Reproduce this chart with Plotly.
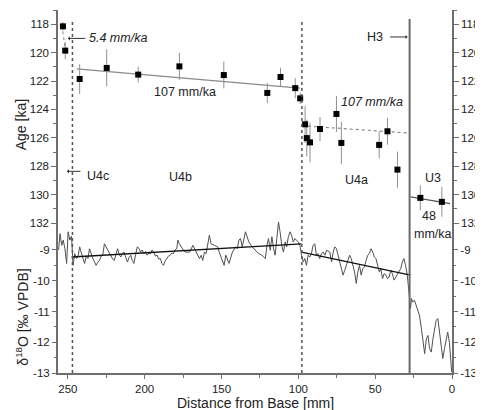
import plotly.graph_objects as go

# ---- U-series ages (top panel) ----
age_dist = [253.2, 251.7, 242.3, 224.7, 204.2, 177.4, 148.5, 120.2, 111.6, 102.0, 98.8,
            95.6, 94.5, 92.4, 85.9, 75.2, 72.0, 47.4, 42.0, 35.5, 20.6, 6.6]
age_ka = [118.15, 119.86, 121.86, 121.08, 121.55, 120.97, 121.58, 122.84, 121.72, 122.5, 123.22,
          125.05, 126.02, 126.32, 125.38, 124.32, 126.36, 126.5, 125.54, 128.24, 130.23, 130.51]
age_err = [0.3, 0.6, 1.05, 1.3, 0.56, 0.95, 0.94, 0.7, 0.65, 0.7, 0.4,
           1.3, 1.3, 1.4, 0.85, 1.27, 1.5, 0.95, 0.95, 1.27, 0.88, 1.05]

# growth-rate fits (age model)
fit_u4b_dist = [244.2, 99.0]
fit_u4b_age = [121.15, 122.5]
fit_u4a_dist = [97.7, 28.9]
fit_u4a_age = [125.15, 125.66]
fit_u3_dist = [27.0, 1.3]
fit_u3_age = [130.16, 130.63]
fit_54_dist = [253.3, 251.3]
fit_54_age = [118.5, 120.0]

# ---- delta 18O record (bottom panel) ----
d18_dist = [256.0, 255.1, 254.0, 253.0, 251.9, 250.8, 249.8, 248.7, 247.6, 246.6, 245.5, 244.4, 243.4,
            242.3, 241.2, 240.2, 239.1, 238.0, 236.9, 235.9, 234.8, 233.7, 232.6, 231.6, 230.5, 229.4,
            228.3, 227.3, 226.2, 225.1, 224.1, 223.0, 221.9, 220.8, 219.8, 218.7, 217.6, 216.6, 215.5,
            214.4, 213.4, 212.3, 211.2, 210.2, 209.1, 208.0, 207.0, 205.9, 204.8, 203.7, 202.7, 201.6,
            200.5, 199.4, 198.4, 197.3, 196.2, 195.2, 194.1, 193.0, 191.9, 190.9, 189.8, 188.7, 187.7,
            186.6, 185.5, 184.5, 183.4, 182.3, 181.3, 180.2, 179.1, 178.4, 177.4, 176.3, 175.2, 174.2,
            173.1,
            170.7, 168.6, 166.5, 164.3, 163.2, 162.2, 161.1, 160.0, 157.9, 156.8, 154.7, 152.5, 151.5,
            149.4, 148.3, 147.2, 146.1, 145.1, 142.9, 140.8, 139.7, 138.7, 137.6, 136.5, 134.4, 133.3,
            132.2, 130.1, 128.0, 125.8, 123.7, 121.5, 120.4, 119.4, 118.3, 117.2, 116.1, 115.1, 114.0,
            112.9, 111.9, 110.8, 109.7, 108.6, 107.6, 106.5, 105.4, 104.4, 103.3, 102.2, 100.1, 99.0,
            97.9, 96.8, 95.8, 94.7, 93.6, 92.5, 91.5, 90.4, 89.3, 88.2, 87.2, 86.1,
            85.0, 83.8, 82.7, 81.6, 79.5, 78.4, 77.3, 76.3, 75.2, 74.1, 73.1, 72.0, 70.9, 69.8, 68.8,
            67.7, 66.6, 65.6, 64.5, 63.4, 62.3, 61.3, 60.2, 59.1, 58.1, 57.0, 55.9, 54.8, 53.8, 52.7,
            51.6, 50.5, 49.5, 48.4, 47.3, 46.3, 45.2, 44.1, 43.0, 42.0, 40.9, 39.8, 38.8, 37.7, 36.6,
            35.6, 34.5, 33.4, 32.3, 31.3, 30.2, 29.1, 28.0, 27.0, 26.4, 25.5, 24.4, 23.4, 22.3, 21.2,
            19.9, 18.9, 17.8, 16.7, 15.6, 14.6, 13.5, 12.4, 11.4, 10.3, 9.2, 8.2, 7.1, 6.0, 4.9, 3.9,
            2.8, 1.7, 0.6, 0.2]
d18_val = [-9.0, -8.47, -8.85, -8.68, -8.96, -9.44, -8.41, -8.68, -8.55, -9.5, -9.12, -9.28, -9.23,
           -8.9, -9.1, -9.3, -9.44, -9.2, -9.28, -8.96, -9.15, -9.28, -9.39, -9.5, -9.4, -9.34,
           -9.2, -9.17, -8.8, -8.9, -8.96, -9.1, -9.17, -9.3, -9.34, -9.1, -8.96, -9.15, -9.23,
           -9.1, -9.07, -9.25, -9.39, -9.25, -9.17, -9.35, -9.44, -9.15, -8.9, -8.95, -9.07, -9.0,
           -9.12, -9.05, -9.17, -9.1, -9.12, -9.0, -9.07, -9.2, -9.17, -9.3, -9.28, -9.45, -9.5,
           -9.35, -9.28, -9.2, -9.17, -9.1, -9.12, -9.0, -8.96, -8.68, -8.8, -8.9, -9.01, -9.05,
           -9.07,
           -9.07, -8.85, -9.07, -9.28, -9.17, -9.34, -9.07, -9.12, -8.52, -8.8, -8.85, -8.9, -9.07,
           -9.39, -9.5, -9.17, -9.34, -9.44, -9.07, -8.9, -8.96, -8.68, -8.63, -8.9, -8.41, -8.57,
           -8.74, -8.9, -9.01, -9.12, -9.17, -9.28, -8.85, -8.63, -9.01, -8.57, -8.96, -9.17, -8.63,
           -8.09, -8.41, -8.85, -9.07, -8.74, -8.9, -8.57, -8.41, -8.52, -8.74, -8.63, -8.74, -8.85,
           -9.17, -9.39, -9.28, -9.5, -9.17, -9.23, -9.12, -8.85, -8.8, -9.17, -9.12, -9.28,
           -9.12, -9.07, -9.17, -9.01, -9.07, -9.39, -9.07, -8.9, -8.96, -9.17, -9.34, -9.61, -9.82,
           -9.66, -9.5, -9.34, -9.17, -9.28, -9.5, -9.72, -10.09, -9.72, -9.5, -9.82, -9.61, -9.55,
           -9.34, -9.17, -9.12, -8.96, -9.07, -9.23, -9.28, -9.55, -9.72, -9.61, -9.93, -9.77, -9.82,
           -9.93, -9.88, -9.66, -9.77, -9.98, -9.88, -9.82, -9.72, -9.61, -9.39, -9.28, -9.5, -9.82,
           -10.37, -10.91, -10.58, -10.69, -10.64, -10.8, -10.96, -11.12, -11.56, -12.0, -12.37,
           -11.89, -11.78, -12.21, -12.32, -11.89, -11.61, -11.29, -11.23, -11.67, -12.1, -12.53,
           -12.21, -11.89, -11.67, -12.0, -12.64, -12.97]

d18_fit1_dist = [247.4, 97.9]
d18_fit1_val = [-9.23, -8.8]
d18_fit2_dist = [97.9, 27.0]
d18_fit2_val = [-9.07, -9.82]

# ---- axes ----
x_ticks = [250, 200, 150, 100, 50, 0]
x_minor = [225, 175, 125, 75, 25]
age_ticks = [118, 120, 122, 124, 126, 128, 130, 132]
age_minor = [117, 119, 121, 123, 125, 127, 129, 131]
d18_ticks = [-9, -10, -11, -12, -13]
d18_ticktext = ["-9", "-10", "-11", "-12", "-13"]
d18_minor = [-9.5, -10.5, -11.5, -12.5]

# boundaries
bound_dotted = [247.0, 97.7]
bound_h3 = 27.6

FONT = "Liberation Sans, Arial, sans-serif"
AXC = "#6e6e6e"
TXT = "#222222"

fig = go.Figure()

fig.add_trace(go.Scatter(x=d18_dist, y=d18_val, mode="lines", yaxis="y2",
                         line=dict(color="#505050", width=1), showlegend=False, hoverinfo="skip"))
fig.add_trace(go.Scatter(x=d18_fit1_dist, y=d18_fit1_val, mode="lines", yaxis="y2",
                         line=dict(color="#111", width=1.3), showlegend=False))
fig.add_trace(go.Scatter(x=d18_fit2_dist, y=d18_fit2_val, mode="lines", yaxis="y2",
                         line=dict(color="#111", width=1.3), showlegend=False))

fig.add_trace(go.Scatter(x=fit_u4b_dist, y=fit_u4b_age, mode="lines",
                         line=dict(color="#8a8a8a", width=1.2), showlegend=False))
fig.add_trace(go.Scatter(x=fit_u4a_dist, y=fit_u4a_age, mode="lines",
                         line=dict(color="#8a8a8a", width=1.2, dash="dot"), showlegend=False))
fig.add_trace(go.Scatter(x=fit_u3_dist, y=fit_u3_age, mode="lines",
                         line=dict(color="#555", width=1.3), showlegend=False))
fig.add_trace(go.Scatter(x=fit_54_dist, y=fit_54_age, mode="lines",
                         line=dict(color="#8a8a8a", width=1, dash="dot"), showlegend=False))

fig.add_trace(go.Scatter(x=age_dist, y=age_ka, mode="markers",
                         marker=dict(symbol="square", size=6, color="#000"),
                         error_y=dict(type="data", array=age_err, color="#909090",
                                      thickness=1, width=0),
                         showlegend=False))

# invisible traces to anchor right-hand mirror axes
fig.add_trace(go.Scatter(x=age_dist[:1], y=age_ka[:1], yaxis="y3", mode="markers",
                         marker=dict(opacity=0), showlegend=False, hoverinfo="skip"))
fig.add_trace(go.Scatter(x=d18_dist[:1], y=d18_val[:1], yaxis="y4", mode="markers",
                         marker=dict(opacity=0), showlegend=False, hoverinfo="skip"))

tickfont = dict(family=FONT, size=11.5, color=TXT)
age_range = [142.56, 117.0]
d18_range = [-13.0, -1.2]

common_y = dict(showgrid=False, zeroline=False, ticks="outside", ticklen=5, tickwidth=1,
                tickcolor=AXC, tickfont=tickfont)

# page body adds an 8px offset, so the figure is sized 8px smaller
fig.update_layout(
    width=475, height=402,
    margin=dict(l=50, r=26, t=2, b=37),
    paper_bgcolor="white", plot_bgcolor="white",
    font=dict(family=FONT, color=TXT),
    xaxis=dict(range=[256.4, 0], tickvals=x_ticks, ticks="outside", ticklen=4, tickcolor=AXC,
               showline=True, linecolor=AXC, linewidth=1.5, showgrid=False, zeroline=False,
               tickfont=dict(family=FONT, size=11.5, color=TXT),
               minor=dict(tickvals=x_minor, ticks="outside", ticklen=3, tickcolor=AXC)),
    yaxis=dict(range=age_range, tickvals=age_ticks, side="left", showline=True,
               linecolor=AXC, linewidth=1.5,
               minor=dict(tickvals=age_minor, ticks="outside", ticklen=3, tickcolor=AXC),
               **common_y),
    yaxis2=dict(range=d18_range, tickvals=d18_ticks, ticktext=d18_ticktext, overlaying="y",
                side="left", showline=False,
                minor=dict(tickvals=d18_minor, ticks="outside", ticklen=3, tickcolor=AXC),
                **common_y),
    yaxis3=dict(range=age_range, tickvals=age_ticks, overlaying="y", side="right",
                showline=True, linecolor=AXC, linewidth=1.5,
                minor=dict(tickvals=age_minor, ticks="outside", ticklen=3, tickcolor=AXC),
                **common_y),
    yaxis4=dict(range=d18_range, tickvals=d18_ticks, ticktext=d18_ticktext, overlaying="y",
                side="right", showline=False,
                minor=dict(tickvals=d18_minor, ticks="outside", ticklen=3, tickcolor=AXC),
                **common_y),
)

# boundary lines
for xb in bound_dotted:
    fig.add_shape(type="line", xref="x", yref="paper", x0=xb, x1=xb, y0=0, y1=0.975,
                  line=dict(color="#555", width=1.5, dash="dot"))
fig.add_shape(type="line", xref="x", yref="paper", x0=bound_h3, x1=bound_h3, y0=0, y1=0.975,
              line=dict(color="#6a6a6a", width=2))

ann_font = dict(family=FONT, size=12.5, color=TXT)
texts = [
    ("<i>5.4 mm/ka</i>", 217.2, 119.0),
    ("107 mm/ka", 173.5, 122.75),
    ("<i>107 mm/ka</i>", 52.1, 123.49),
    ("H3", 50.1, 118.9),
    ("U4c", 230.4, 128.66),
    ("U4b", 176.7, 128.73),
    ("U4a", 62.3, 128.94),
    ("U3", 12.2, 128.8),
    ("48", 15.1, 131.5),
    ("mm/ka", 12.2, 132.74),
]
for t, xx, yy in texts:
    fig.add_annotation(text=t, x=xx, y=yy, xref="x", yref="y", showarrow=False, font=ann_font,
                       xanchor="center", yanchor="middle")

# arrows
arrows = [
    (250.0, 119.0, 19),
    (28.9, 118.9, -19),
    (250.6, 128.36, 15),
]
for xx, yy, axp in arrows:
    fig.add_annotation(text="", x=xx, y=yy, xref="x", yref="y", ax=axp, ay=0,
                       showarrow=True, arrowhead=1, arrowsize=0.7, arrowwidth=1,
                       arrowcolor="#333")

# axis titles
title_font = dict(family=FONT, size=14, color=TXT)
fig.add_annotation(text="Age [ka]", xref="paper", yref="paper", x=-0.095, y=0.684,
                   xanchor="center", yanchor="middle",
                   textangle=-90, showarrow=False, font=title_font)
fig.add_annotation(text="δ<sup>18</sup>O [‰ VPDB]", xref="paper", yref="paper", x=-0.09, y=0.154,
                   xanchor="center", yanchor="middle",
                   textangle=-90, showarrow=False, font=title_font)
fig.add_annotation(text="Distance from Base [mm]", xref="paper", yref="paper", x=0.501, y=-0.083,
                   xanchor="center", yanchor="middle",
                   showarrow=False, font=title_font)

fig.write_html("out.html")
